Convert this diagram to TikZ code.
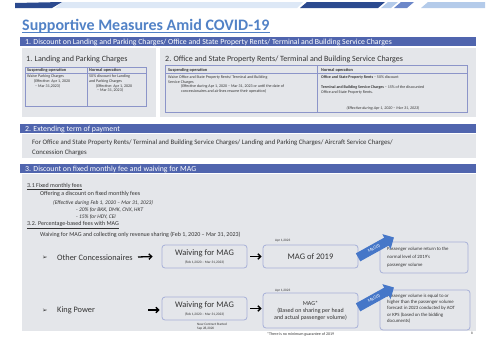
\documentclass[tikz,border=0pt]{standalone}
\usepackage{fontspec}
\setmainfont{Carlito}
\newfontfamily\symfont{DejaVu Sans}
\usetikzlibrary{shapes.arrows,arrows.meta}
\definecolor{navy}{HTML}{2B4A8F}
\definecolor{lblue}{HTML}{B4CBEA}
\definecolor{mblue}{HTML}{6C87C9}
\definecolor{barblue}{HTML}{5065AE}
\definecolor{panel}{HTML}{E4E6EA}
\definecolor{tline}{HTML}{8C95C9}
\definecolor{boxline}{HTML}{A7B0D8}
\definecolor{titleblue}{HTML}{5282C6}
\definecolor{arrowblue}{HTML}{4677C8}
\definecolor{bodytext}{HTML}{333333}
\begin{document}
\begin{tikzpicture}[x=1pt,y=-1pt,
  txt/.style={inner sep=0pt, anchor=base west, text=bodytext},
  bartxt/.style={txt, text=white, font=\fontsize{7.8}{9}\selectfont},
  ptitle/.style={txt, font=\fontsize{8}{9}\selectfont},
  cell/.style={inner sep=0pt, anchor=north west, align=left, text=bodytext, font=\fontsize{4}{4.6}\selectfont},
  cellhead/.style={txt, font=\bfseries\fontsize{4.3}{5}\selectfont},
  small/.style={txt, font=\fontsize{6}{7}\selectfont},
  smit/.style={txt, font=\itshape\fontsize{5.5}{6.5}\selectfont},
  tinyt/.style={txt, font=\fontsize{3.4}{4}\selectfont},
  mbox/.style={draw=boxline, line width=0.8pt, rounded corners=3pt},
  rowlabel/.style={txt, font=\fontsize{8.3}{9}\selectfont},
  blkarr/.style={draw=black, line width=1.3pt, -{Straight Barb[length=2.8pt,width=5.5pt]}},
  bluearr/.style={single arrow, fill=arrowblue, text=white, font=\fontsize{4.5}{5}\selectfont,
     inner sep=2.4pt, minimum height=41pt, single arrow head extend=4pt, rotate=29}
]
\useasboundingbox (0,0) rectangle (495,338);
% top stripes
\fill[lblue!45] (62,2) -- (303,2) -- (297,8) -- (55,8) -- cycle;
\fill[navy] (15,3) -- (62,2) -- (52,8) -- (15,8) -- cycle;
\fill[navy] (307,2) -- (385,2) -- (378,8) -- (300,8) -- cycle;
\fill[lblue] (388,2) -- (398,2) -- (391,8) -- (381,8) -- cycle;
\fill[mblue] (401,2) -- (414,2) -- (407,8) -- (394,8) -- cycle;
\fill[lblue] (428,2) -- (485,2) -- (485,8) -- (421,8) -- cycle;
% title
\node[txt, text=titleblue, font=\bfseries\fontsize{16}{18}\selectfont] (title) at (22,30) {Supportive Measures Amid COVID-19};
\draw[titleblue, line width=0.9pt] ([yshift=-2pt]title.base west) -- ([yshift=-2pt]title.base east);
% section 1
\fill[barblue] (20,37) rectangle (476,46);
\node[bartxt] (s1) at (25,44.3) {1. Discount on Landing and Parking Charges/ Office and State Property Rents/ Terminal and Building Service Charges};
\fill[panel] (22,48) rectangle (156,117);
\fill[panel] (160,48) rectangle (476,117);
\node[ptitle] (p1) at (26,61) {1. Landing and Parking Charges};
\node[ptitle] (p2) at (165,61) {2. Office and State Property Rents/ Terminal and Building Service Charges};
% table 1
\draw[tline, line width=0.6pt] (25,67) rectangle (146,106);
\draw[tline, line width=0.6pt] (25,73) -- (146,73) (87,67) -- (87,106);
\node[cellhead] (t1h1) at (27,71.5) {Suspending operation};
\node[cellhead] (t1h2) at (89,71.5) {Normal operation};
\node[cell] (t1c1) at (27,75) {Waive Parking Charges\\\hspace*{7pt}(Effective: Apr 1, 2020\\\hspace*{8pt}– Mar 31,2023)};
\node[cell] (t1c2) at (89,75) {50\% discount for Landing\\and Parking Charges\\\hspace*{7pt}(Effective: Apr 1, 2020\\\hspace*{8pt}– Mar 31, 2023)};
% table 2
\draw[tline, line width=0.6pt] (165,65) rectangle (467,112);
\draw[tline, line width=0.6pt] (165,73) -- (467,73) (317,65) -- (317,112);
\node[cellhead] (t2h1) at (168,71) {Suspending operation};
\node[cellhead] (t2h2) at (321,71) {Normal operation};
\node[cell] (t2c1) at (168,75.5) {Waive Office and State Property Rents/ Terminal and Building\\Service Charges\\\hspace*{13pt}(Effective during Apr 1, 2020 – Mar 31, 2023 or until the date of\\\hspace*{13pt}concessionaires and airlines resume their operation)};
\node[cell] (t2c2) at (321,75.5) {\textbf{Office and State Property Rents} – 50\% discount};
\node[cell] (t2c3) at (321,85.5) {\textbf{Terminal and Building Service Charges} – 15\% of the discounted\\Office and State Property Rents.};
\node[inner sep=0pt, anchor=base, text=bodytext, font=\itshape\fontsize{4}{4.6}\selectfont] (t2c4) at (383,109) {(Effective during Apr 1, 2020 – Mar 31, 2023)};
% section 2
\fill[barblue] (20,124) rectangle (476,133);
\node[bartxt] (s2) at (25,131.3) {2. Extending term of payment};
\fill[panel] (22,134) rectangle (476,158);
\node[txt, font=\fontsize{6.8}{8}\selectfont] (s2a) at (32,144.5) {For Office and State Property Rents/ Terminal and Building Service Charges/ Landing and Parking Charges/ Aircraft Service Charges/};
\node[txt, font=\fontsize{6.8}{8}\selectfont] (s2b) at (32,154.5) {Concession Charges};
% section 3
\fill[barblue] (20,164) rectangle (476,173);
\node[bartxt] (s3) at (25,171.3) {3. Discount on fixed monthly fee and waiving for MAG};
\fill[panel] (22,174) rectangle (476,331);
\node[small] (f1) at (27,187) {\underline{3.1 Fixed monthly fees}};
\node[small] (f2) at (40,195) {Offering a discount on fixed monthly fees};
\node[smit] (f3) at (53,204) {(Effective during Feb 1, 2020 – Mar 31, 2023)};
\node[smit] (f4) at (76,211) {- 20\% for BKK, DMK, CNX, HKT};
\node[smit] (f5) at (76,218) {- 15\% for HDY, CEI};
\node[small] (g1) at (27,225.5) {\underline{3.2. Percentage-based fees with MAG}};
\node[small] (g2) at (40,236.5) {Waiving for MAG and collecting only revenue sharing (Feb 1, 2020 – Mar 31, 2023)};
% row 1
\node[txt, font=\symfont\fontsize{6.5}{7}\selectfont] (b1) at (42,259.5) {➢};
\node[rowlabel] (oc) at (57,260) {Other Concessionaires};
\node[mbox, minimum width=85pt, minimum height=23pt] (w1) at (204.5,256.5) {};
\node[inner sep=0pt, text=bodytext, font=\fontsize{8.5}{9}\selectfont] (w1a) at (204.5,253) {Waiving for MAG};
\node[inner sep=0pt, text=bodytext, font=\fontsize{3.5}{4}\selectfont] (w1b) at (204.5,262.5) {(Feb 1,2020 – Mar 31,2023)};
\node[mbox, minimum width=95pt, minimum height=23pt] (m1) at (310.5,256.5) {};
\node[inner sep=0pt, text=bodytext, font=\fontsize{8.5}{9}\selectfont] (m1a) at (310.5,256.5) {MAG of 2019};
\node[tinyt] (d1) at (275,241.5) {Apr 1,2023};
\node[mbox, minimum width=88pt, minimum height=31pt] (r1) at (424,257.5) {};
\node[cell, font=\fontsize{4.8}{8.3}\selectfont] (r1t) at (387,246.5) {Passenger volume return to the\\normal level of 2019's\\passenger volume};
\coordinate (a1) at (138,257);
\draw[blkarr] (a1) -- ([xshift=-9pt]w1.west);
\draw[blkarr, shorten <=3pt, shorten >=1pt] (w1.east) -- (m1.west);
\node[bluearr] (ba1) at (374,248.5) {MAG(t)};
% row 2
\node[txt, font=\symfont\fontsize{6.5}{7}\selectfont] (b2) at (42,312) {➢};
\node[rowlabel] (kp) at (57,312.5) {King Power};
\node[mbox, minimum width=85pt, minimum height=23pt] (w2) at (204.5,308.5) {};
\node[inner sep=0pt, text=bodytext, font=\fontsize{8.5}{9}\selectfont] (w2a) at (204.5,305) {Waiving for MAG};
\node[inner sep=0pt, text=bodytext, font=\fontsize{3.5}{4}\selectfont] (w2b) at (204.5,314.5) {(Feb 1,2020 – Mar 31,2023)};
\node[tinyt] (nc1) at (197,325) {New Contract Started};
\node[tinyt] (nc2) at (197,329.5) {Sep 28,2020};
\node[mbox, minimum width=95pt, minimum height=35pt] (m2) at (310.5,310.5) {};
\node[inner sep=0pt, align=center, text=bodytext, font=\fontsize{6}{7}\selectfont] (m2a) at (310.5,311) {MAG*\\(Based on sharing per head\\and actual passenger volume)};
\node[tinyt] (d2) at (275,291.5) {Apr 1,2023};
\node[tinyt, font=\fontsize{4}{4.5}\selectfont] (nt) at (267,335) {*There is no minimum guarantee of 2019};
\node[mbox, minimum width=90pt, minimum height=40pt] (r2) at (425,310) {};
\node[cell, font=\fontsize{4.8}{6.4}\selectfont] (r2t) at (387,293.5) {Passenger volume is equal to or\\higher than the passenger volume\\forecast in 2023 conducted by AOT\\or KPS (based on the bidding\\documents)};
\coordinate (a2) at (148,310);
\draw[blkarr] (a2) -- ([xshift=-2pt]w2.west |- a2);
\draw[blkarr, shorten <=3pt, shorten >=1pt] (w2.east) -- (w2.east -| m2.west);
\node[bluearr] (ba2) at (374,298.5) {MAG(t)};
\node[tinyt] (pg) at (471,334) {8};
\end{tikzpicture}
\end{document}
